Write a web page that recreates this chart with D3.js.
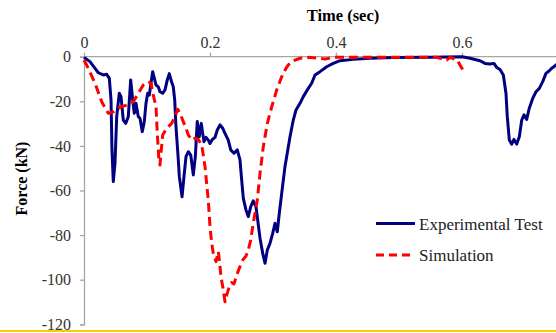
<!DOCTYPE html>
<html>
<head>
<meta charset="utf-8">
<script src="https://cdn.jsdelivr.net/npm/d3@7"></script>
<style>
  html, body { margin: 0; padding: 0; background: #fff; }
  svg { display: block; }
</style>
</head>
<body>
<svg id="chart" width="556" height="333"></svg>
<script>
// ---- data ----
const xTicks = [0, 0.2, 0.4, 0.6];
const yTicks = [0, -20, -40, -60, -80, -100, -120];
const seriesNames = ["Experimental Test", "Simulation"];

const expTime = [0, 0.0095, 0.0175, 0.0227, 0.0306, 0.036, 0.0402, 0.0429, 0.0444, 0.0465, 0.0492, 0.0519, 0.056, 0.0587, 0.0624, 0.0662, 0.0703, 0.0741, 0.0773, 0.0798, 0.0825, 0.0862, 0.0889, 0.0925, 0.0957, 0.0984, 0.1011, 0.1037, 0.1063, 0.109, 0.1111, 0.1143, 0.1179, 0.1206, 0.1249, 0.1286, 0.1322, 0.1354, 0.1392, 0.1417, 0.144, 0.146, 0.1497, 0.1513, 0.1556, 0.1587, 0.1619, 0.1656, 0.1694, 0.1735, 0.1767, 0.1798, 0.183, 0.1862, 0.1884, 0.1905, 0.1937, 0.1973, 0.2, 0.2037, 0.2079, 0.2116, 0.2159, 0.2202, 0.2238, 0.229, 0.2329, 0.2381, 0.2433, 0.2476, 0.2503, 0.2529, 0.2571, 0.2608, 0.2646, 0.2687, 0.273, 0.2757, 0.2794, 0.2837, 0.2873, 0.291, 0.2952, 0.2995, 0.3032, 0.3068, 0.31, 0.3138, 0.319, 0.327, 0.3322, 0.3365, 0.3429, 0.3481, 0.356, 0.3614, 0.3667, 0.3746, 0.3852, 0.3957, 0.4063, 0.4275, 0.454, 0.491, 0.549, 0.6, 0.6127, 0.6286, 0.6365, 0.6444, 0.6508, 0.655, 0.6603, 0.6656, 0.6698, 0.6719, 0.6751, 0.6789, 0.6825, 0.6868, 0.691, 0.6948, 0.6984, 0.7027, 0.7068, 0.7122, 0.7175, 0.7227, 0.7281, 0.7333, 0.7386, 0.7424, 0.746, 0.7492, 0.752];
const expForce = [-0.3, -2.2, -5.2, -7.2, -8.2, -7.9, -9.7, -19.4, -41.8, -56, -47.7, -26.9, -16.4, -17.9, -28.4, -29.9, -26.9, -10.4, -19.4, -25.4, -20.9, -26.9, -27.6, -33.6, -29.1, -20.9, -16.4, -17.2, -11.9, -6.7, -9.0, -12.7, -13.5, -15.7, -16.4, -14.9, -10.4, -7.6, -11.5, -13.5, -19.4, -31.4, -46.3, -53.8, -62.8, -53.8, -44.8, -42.6, -44.1, -53.0, -44.8, -29.1, -35.9, -29.9, -34.4, -38.1, -36.2, -37.4, -38.9, -37.1, -36.2, -32.9, -30.6, -32.1, -34.4, -37.4, -41.8, -43.3, -41.8, -46.3, -55.3, -63.5, -68.7, -71.7, -67.3, -64.6, -67.3, -73.2, -81.4, -88.2, -92.6, -86.7, -83.7, -79.2, -74.7, -78.5, -70.2, -61.3, -49.3, -35.9, -28.4, -23.9, -20.9, -17.9, -14.2, -11.9, -8.2, -6.7, -4.5, -3.0, -1.8, -1.2, -0.7, -0.4, -0.2, 0, -0.7, -1.8, -3.0, -3.3, -3.0, -4.8, -5.7, -8.2, -16.4, -26.9, -37.4, -39.2, -37.1, -39.2, -35.9, -28.4, -26.1, -28.1, -23.1, -18.7, -15.7, -14.2, -11.2, -7.5, -6.3, -5.2, -4.5, -3.7, -3.4];

const simTime = [0, 0.0068, 0.0175, 0.0281, 0.0386, 0.0465, 0.0571, 0.0678, 0.0783, 0.0862, 0.0941, 0.1021, 0.1063, 0.11, 0.1143, 0.1163, 0.1186, 0.1206, 0.1222, 0.1249, 0.1313, 0.1392, 0.1444, 0.1487, 0.1524, 0.1576, 0.1619, 0.1656, 0.171, 0.1762, 0.1814, 0.1868, 0.1921, 0.1957, 0.1973, 0.2, 0.2027, 0.2052, 0.2095, 0.2132, 0.2148, 0.2175, 0.2211, 0.2238, 0.2265, 0.2306, 0.2344, 0.2381, 0.2424, 0.2465, 0.2519, 0.2571, 0.2608, 0.2646, 0.2678, 0.2714, 0.2751, 0.2794, 0.2846, 0.291, 0.298, 0.3059, 0.3138, 0.3206, 0.3243, 0.3322, 0.3429, 0.3587, 0.3825, 0.3984, 0.454, 0.5175, 0.5598, 0.5757, 0.581, 0.5926, 0.5968, 0.6011];
const simForce = [-1.5, -5.2, -11.9, -20.2, -25.4, -24.7, -22.7, -21.7, -20.2, -16.4, -12.7, -11.2, -11.9, -17.2, -22.4, -34.4, -44.8, -48.6, -43.3, -35.1, -32.1, -29.9, -26.9, -23.6, -25.4, -29.1, -32.1, -35.1, -37.4, -36.6, -37.1, -39.5, -49.3, -59.8, -64.3, -76.2, -83.7, -88.2, -91.9, -87.4, -91.2, -98.7, -104.6, -109.9, -106.9, -103.1, -101.3, -101.9, -97.9, -94.9, -91.2, -89.4, -86.7, -82.2, -76.2, -70.2, -64.3, -52.3, -40.4, -29.9, -22.4, -14.9, -9.0, -5.2, -3.7, -1.8, -0.7, -0.3, -1.0, -0.3, -0.2, -0.3, -0.3, -1.5, -0.3, -1.5, -3.7, -5.7];

// ---- layout ----
const svg = d3.select("#chart");
const W = 556, H = 333;
const plot = { left: 84, right: 556.5, top: 56.7, bottom: 324.3 };

const x = d3.scaleLinear().domain([0, 0.75]).range([plot.left, plot.right]);
const y = d3.scaleLinear().domain([-120, 0]).range([plot.bottom, plot.top]);

svg.append("rect").attr("width", W).attr("height", H).attr("fill", "#fff");

svg.append("defs").append("clipPath").attr("id", "clip")
  .append("rect")
  .attr("x", plot.left - 2).attr("y", plot.top - 4)
  .attr("width", plot.right - plot.left + 4).attr("height", plot.bottom - plot.top + 8);

// axes
const serif = "'Liberation Serif', 'Times New Roman', serif";
const xAxis = svg.append("g")
  .attr("transform", `translate(0,${plot.top})`)
  .call(d3.axisTop(x).tickValues(xTicks).tickSize(4).tickPadding(5)
        .tickFormat(d => d === 0 ? "0" : d3.format(".1f")(d)));
const yAxis = svg.append("g")
  .attr("transform", `translate(${plot.left},0)`)
  .call(d3.axisLeft(y).tickValues(yTicks).tickSize(4).tickPadding(9)
        .tickFormat(d => String(d)));

[xAxis, yAxis].forEach(g => {
  g.select(".domain").attr("stroke", "#a6a6a6").attr("stroke-width", 1.3);
  g.selectAll(".tick line").attr("stroke", "#a6a6a6").attr("stroke-width", 1.3);
  g.selectAll(".tick text").attr("font-family", serif).attr("font-size", 16).attr("fill", "#333");
});
// extend the top axis line to the right edge
xAxis.select(".domain").attr("d", `M${plot.left},0H${W}`);

// axis titles
svg.append("text")
  .attr("x", 343).attr("y", 21)
  .attr("text-anchor", "middle")
  .attr("font-family", serif).attr("font-weight", "bold").attr("font-size", 16.5)
  .attr("fill", "#000")
  .text("Time (sec)");
svg.append("text")
  .attr("transform", "translate(27,178.5) rotate(-90)")
  .attr("text-anchor", "middle")
  .attr("font-family", serif).attr("font-weight", "bold").attr("font-size", 16)
  .attr("fill", "#000")
  .text("Force (kN)");

// lines
const line = d3.line().x(d => x(d[0])).y(d => y(d[1]));
const expData = expTime.map((t, i) => [t, expForce[i]]);
const simData = simTime.map((t, i) => [t, simForce[i]]);

const lines = svg.append("g").attr("clip-path", "url(#clip)");
lines.append("path").datum(expData)
  .attr("d", line).attr("fill", "none")
  .attr("stroke", "#000080").attr("stroke-width", 3).attr("stroke-linejoin", "round");
lines.append("path").datum(simData)
  .attr("d", line).attr("fill", "none")
  .attr("stroke", "#ff0000").attr("stroke-width", 3).attr("stroke-dasharray", "9,5")
  .attr("stroke-linejoin", "round");

// legend
const legend = svg.append("g");
const legendY = [223.5, 255];
const legendStyles = [
  { stroke: "#000080", dash: null },
  { stroke: "#ff0000", dash: "8,5" }
];
seriesNames.forEach((name, i) => {
  legend.append("line")
    .attr("x1", 376).attr("x2", 415).attr("y1", legendY[i]).attr("y2", legendY[i])
    .attr("stroke", legendStyles[i].stroke).attr("stroke-width", 3)
    .attr("stroke-dasharray", legendStyles[i].dash);
  legend.append("text")
    .attr("x", 419).attr("y", legendY[i] + 6)
    .attr("font-family", serif).attr("font-size", 17).attr("fill", "#222")
    .text(name);
});

// yellow border line at bottom
svg.append("line")
  .attr("x1", 0).attr("x2", W).attr("y1", 331).attr("y2", 331)
  .attr("stroke", "#f5d000").attr("stroke-width", 2);
</script>
</body>
</html>
